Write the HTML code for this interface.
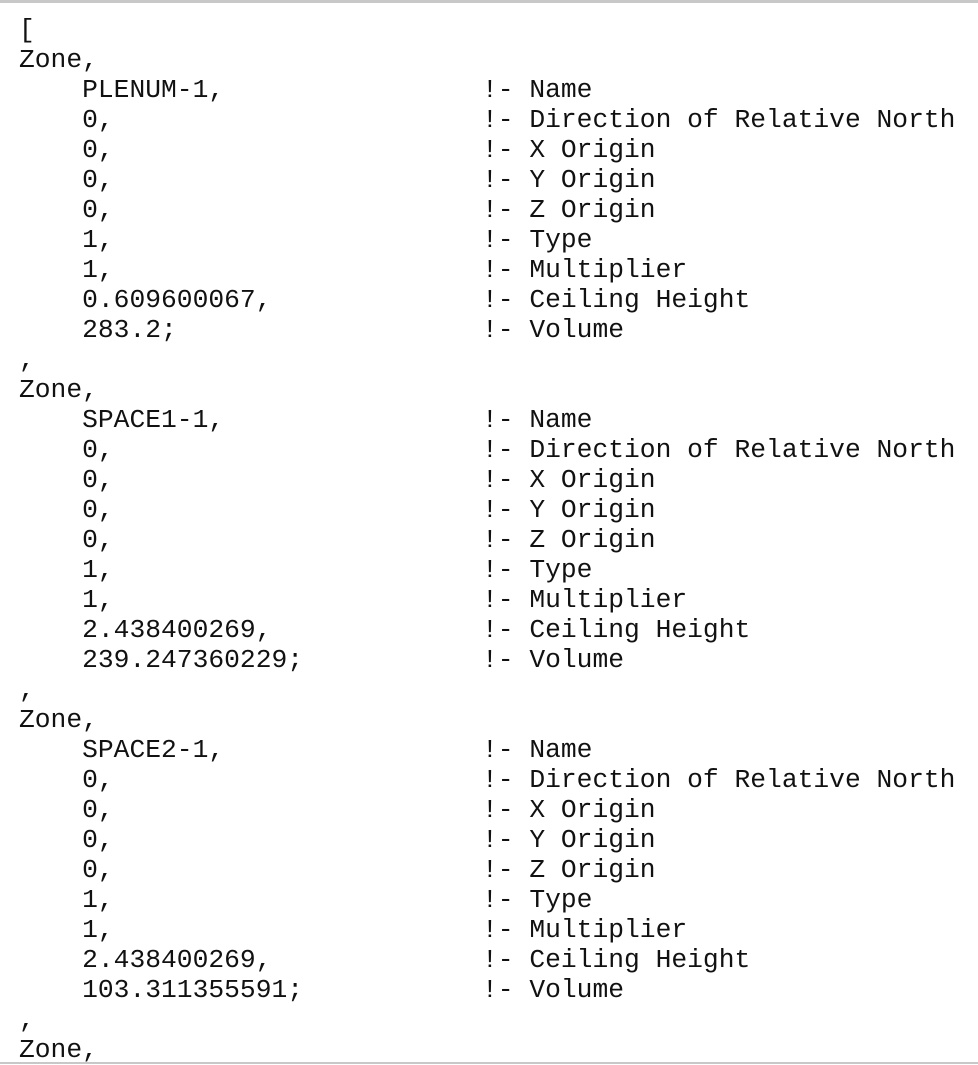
<!DOCTYPE html>
<html><head><style>
html,body{margin:0;padding:0;background:#fff;}
body{width:978px;height:1064px;overflow:hidden;position:relative;border-top:3px solid #c8c8c8;box-sizing:border-box;}
.b{position:absolute;left:0;right:0;bottom:0;height:2px;background:#c8c8c8;}
.c{position:absolute;top:12px;left:19px;font-family:"Liberation Mono",monospace;font-size:26.3px;line-height:30px;color:#111;}
.l{position:relative;height:30px;white-space:pre;}
.r{position:absolute;left:463px;top:0;}
</style></head><body>
<div class="c">
<div class="l">[</div>
<div class="l">Zone,</div>
<div class="l">    PLENUM-1,<span class="r">!- Name</span></div>
<div class="l">    0,<span class="r">!- Direction of Relative North</span></div>
<div class="l">    0,<span class="r">!- X Origin</span></div>
<div class="l">    0,<span class="r">!- Y Origin</span></div>
<div class="l">    0,<span class="r">!- Z Origin</span></div>
<div class="l">    1,<span class="r">!- Type</span></div>
<div class="l">    1,<span class="r">!- Multiplier</span></div>
<div class="l">    0.609600067,<span class="r">!- Ceiling Height</span></div>
<div class="l">    283.2;<span class="r">!- Volume</span></div>
<div class="l">,</div>
<div class="l">Zone,</div>
<div class="l">    SPACE1-1,<span class="r">!- Name</span></div>
<div class="l">    0,<span class="r">!- Direction of Relative North</span></div>
<div class="l">    0,<span class="r">!- X Origin</span></div>
<div class="l">    0,<span class="r">!- Y Origin</span></div>
<div class="l">    0,<span class="r">!- Z Origin</span></div>
<div class="l">    1,<span class="r">!- Type</span></div>
<div class="l">    1,<span class="r">!- Multiplier</span></div>
<div class="l">    2.438400269,<span class="r">!- Ceiling Height</span></div>
<div class="l">    239.247360229;<span class="r">!- Volume</span></div>
<div class="l">,</div>
<div class="l">Zone,</div>
<div class="l">    SPACE2-1,<span class="r">!- Name</span></div>
<div class="l">    0,<span class="r">!- Direction of Relative North</span></div>
<div class="l">    0,<span class="r">!- X Origin</span></div>
<div class="l">    0,<span class="r">!- Y Origin</span></div>
<div class="l">    0,<span class="r">!- Z Origin</span></div>
<div class="l">    1,<span class="r">!- Type</span></div>
<div class="l">    1,<span class="r">!- Multiplier</span></div>
<div class="l">    2.438400269,<span class="r">!- Ceiling Height</span></div>
<div class="l">    103.311355591;<span class="r">!- Volume</span></div>
<div class="l">,</div>
<div class="l">Zone,</div>
</div>
<div class="b"></div>
</body></html>
